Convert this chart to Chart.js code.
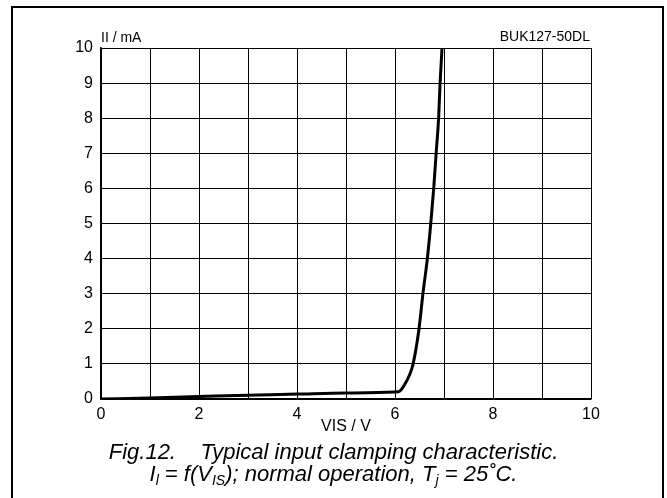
<!DOCTYPE html>
<html>
<head>
<meta charset="utf-8">
<script src="https://cdn.jsdelivr.net/npm/chart.js@4/dist/chart.umd.min.js"></script>
<style>
  html, body { margin: 0; padding: 0; background: #fff; }
  body { width: 667px; height: 498px; position: relative; overflow: hidden; font-family: "Liberation Sans", Arial, sans-serif; }
  #frame { position: absolute; left: 11px; top: 6px; width: 649px; height: 500px; border: 2px solid #000; }
  #wrap { position: absolute; left: 0; top: 0; width: 667px; height: 440px; }
  .lbl { position: absolute; font-size: 14px; color: #000; white-space: nowrap; }
  #caption { position: absolute; left: 0; width: 667px; top: 441px; text-align: center; font-style: italic; font-size: 22px; line-height: 22px; color: #000; }
  #caption sub { font-size: 14px; vertical-align: -4px; line-height: 0; }
</style>
</head>
<body>
<div id="frame"></div>
<div id="wrap"><canvas id="chart"></canvas></div>
<div class="lbl" style="left:101px; top:29px;">II / mA</div>
<div class="lbl" style="right:77px; top:28px;">BUK127-50DL</div>
<div id="caption">Fig.12.&nbsp;&nbsp;&nbsp;&nbsp;Typical input clamping characteristic.<br>I<sub>l</sub> = f(V<sub>IS</sub>); normal operation, T<sub>j</sub> = 25˚C.</div>
<script>
// input voltage V_IS (V) and input current I_I (mA)
const vis = [0, 1, 2, 3, 4, 5, 6, 6.1, 6.2, 6.3, 6.37, 6.49, 6.57, 6.66, 6.73, 6.79, 6.84, 6.89, 6.92, 6.96];
const iI = [0, 0.03, 0.07, 0.11, 0.14, 0.17, 0.2, 0.23, 0.42, 0.7, 1, 2, 3, 4, 5, 6, 7, 8, 9, 10];

const xTicks = [0, 2, 4, 6, 8, 10];
const yTicks = [0, 1, 2, 3, 4, 5, 6, 7, 8, 9, 10];

const points = vis.map((v, i) => ({ x: v, y: iI[i] }));

new Chart(document.getElementById('chart'), {
  type: 'scatter',
  data: {
    datasets: [{
      data: points,
      showLine: true,
      borderColor: '#000',
      borderWidth: 3,
      pointRadius: 0,
      cubicInterpolationMode: 'monotone',
      fill: false
    }]
  },
  options: {
    responsive: true,
    maintainAspectRatio: false,
    animation: false,
    layout: { padding: { left: 0, right: 76, top: 48, bottom: 0 } },
    plugins: { legend: { display: false }, tooltip: { enabled: false } },
    scales: {
      x: {
        type: 'linear',
        min: 0, max: 10,
        afterFit: s => { s.height = 41; },
        afterBuildTicks: s => { s.ticks = [0,1,2,3,4,5,6,7,8,9,10].map(v => ({ value: v })); },
        grid: { color: '#000', lineWidth: 1, drawTicks: false },
        border: { color: '#000', width: 1.5 },
        ticks: {
          padding: 6,
          color: '#000',
          font: { family: 'Liberation Sans', size: 16 },
          maxRotation: 0,
          autoSkip: false,
          callback: v => xTicks.includes(v) ? String(v) : ''
        },
        title: { display: true, text: 'VIS / V', color: '#000', font: { family: 'Liberation Sans', size: 16 }, padding: { top: 0, bottom: 4 } }
      },
      y: {
        type: 'linear',
        min: 0, max: 10,
        afterFit: s => { s.width = 101; },
        afterBuildTicks: s => { s.ticks = yTicks.map(v => ({ value: v })); },
        grid: { color: '#000', lineWidth: 1, drawTicks: false },
        border: { color: '#000', width: 1.5 },
        ticks: {
          padding: 8,
          color: '#000',
          font: { family: 'Liberation Sans', size: 16 },
          autoSkip: false
        }
      }
    }
  }
});
</script>
</body>
</html>
